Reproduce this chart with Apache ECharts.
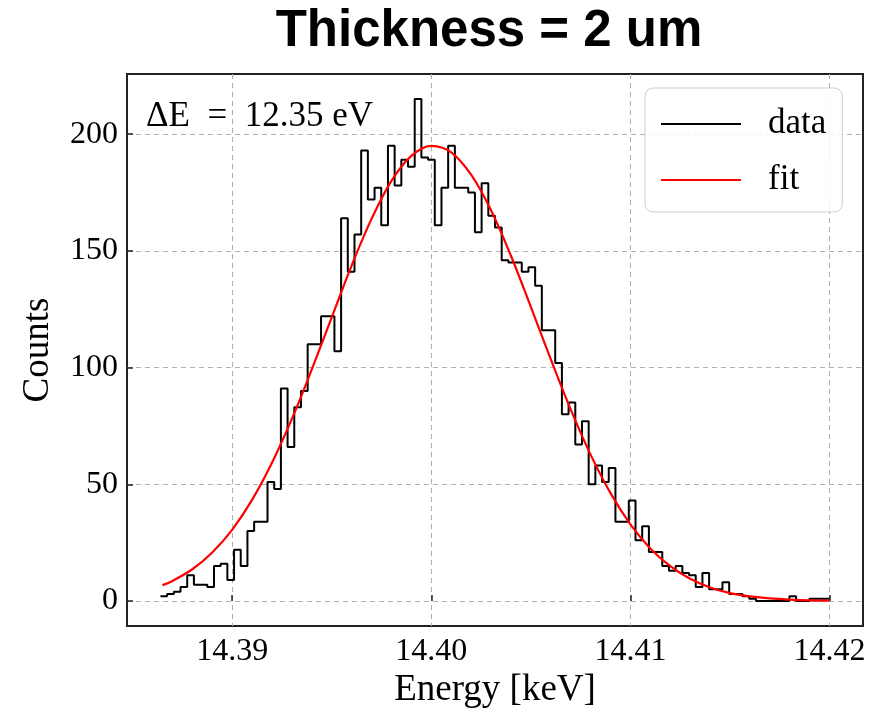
<!DOCTYPE html>
<html><head><meta charset="utf-8">
<script src="https://cdn.jsdelivr.net/npm/echarts@6/dist/echarts.min.js"></script>
<style>html,body{margin:0;padding:0;background:#fff;}#chart{width:885px;height:714px;}</style>
</head><body><div id="chart"></div>
<script>
const chartTitle = 'Thickness = 2 um';
const annotation = '\u0394E\u2002=\u200212.35 eV';
const xAxisName = 'Energy [keV]';
const yAxisName = 'Counts';
const seriesNames = ['data', 'fit'];

// histogram (step) : first bin edge, bin width, counts per bin
const binStart = 14.3864;
const binWidth = 0.000336;
const counts = [
  2, 3, 4, 6, 11, 7, 7, 6, 15, 16,
  9, 22, 15, 30, 34, 34, 51, 48, 91, 66,
  83, 90, 110, 110, 122, 122, 107, 164, 141, 157,
  193, 172, 177, 161, 195, 178, 189, 186, 215, 190,
  189, 161, 177, 195, 177, 177, 175, 158, 179, 165,
  160, 146, 145, 145, 141, 143, 135, 116, 116, 102,
  80, 85, 67, 77, 50, 58, 51, 57, 34, 34,
  43, 26, 32, 21, 21, 15, 13, 15, 12, 11,
  6, 12, 5, 5, 8, 3, 3, 2, 1, 0,
  0, 0, 0, 0, 2, 0, 0, 1, 1, 1
];

// fit curve
const fitEnergy = [14.3865, 14.387, 14.388, 14.389, 14.390, 14.391, 14.392, 14.393, 14.394, 14.395,
  14.396, 14.397, 14.398, 14.399, 14.400, 14.401, 14.402, 14.403, 14.404, 14.405,
  14.406, 14.407, 14.408, 14.409, 14.410, 14.411, 14.412, 14.413, 14.414, 14.415,
  14.416, 14.417, 14.418, 14.419, 14.420];
const fitCounts = [6.8, 8.6, 13.6, 20.8, 30.5, 43.3, 59.2, 78.0, 99.2, 121.5,
  143.7, 163.7, 180.0, 190.7, 195.0, 192.2, 182.6, 167.4, 147.9, 126.0,
  103.6, 82.1, 62.7, 46.2, 32.8, 22.5, 14.9, 9.5, 5.8, 3.4,
  2.0, 1.1, 0.6, 0.3, 0.2];

const xTicks = [14.39, 14.40, 14.41, 14.42];
const yTicks = [0, 50, 100, 150, 200];
const xRange = [14.38472, 14.42168];
const yRange = [-10.75, 225.75];

const histPoints = counts.map((c, i) => [binStart + i * binWidth, c]);
histPoints.push([binStart + counts.length * binWidth, counts[counts.length - 1]]);
const fitPoints = fitEnergy.map((e, i) => [e, fitCounts[i]]);

const serif = 'Liberation Serif, Times New Roman, serif';
const isTick = (arr, v) => arr.some(t => Math.abs(t - v) < 1e-7);
const gridLine = {show: true, showMinLine: false, showMaxLine: false,
  lineStyle: {color: '#b0b0b0', width: 1, type: [5, 4]}};
const tickStyle = {show: true, inside: true, length: 6, lineStyle: {color: '#222', width: 1.5}};

const chart = echarts.init(document.getElementById('chart'), null, {renderer: 'canvas'});
chart.setOption({
  backgroundColor: '#fff',
  animation: false,
  title: {
    text: chartTitle, left: 484, top: 1, textAlign: 'center',
    textStyle: {fontFamily: 'Liberation Sans, Arial, sans-serif', fontWeight: 'bold', fontSize: 51, color: '#000'}
  },
  grid: {left: 127, right: 22, top: 74, bottom: 85, show: true, borderColor: '#222', borderWidth: 2, backgroundColor: 'transparent'},
  legend: {
    data: seriesNames, orient: 'vertical', left: 645, top: 88,
    itemWidth: 80, itemHeight: 16, itemGap: 20,
    padding: [18, 16, 14, 15],
    itemStyle: {opacity: 0},
    backgroundColor: 'rgba(255,255,255,0.85)', borderColor: '#cccccc', borderWidth: 1, borderRadius: 8,
    textStyle: {fontFamily: serif, fontSize: 35, color: '#000', padding: [0, 0, 0, 22], lineHeight: 36}
  },
  xAxis: {
    type: 'value', min: xRange[0], max: xRange[1],
    name: xAxisName, nameLocation: 'middle', nameGap: 41,
    nameTextStyle: {fontFamily: serif, fontSize: 37, color: '#000'},
    axisLine: {show: false},
    axisTick: tickStyle,
    axisLabel: {
      margin: 9, fontFamily: serif, fontSize: 32, color: '#000',
      showMinLabel: false, showMaxLabel: false,
      formatter: v => isTick(xTicks, v) ? v.toFixed(2) : ''
    },
    splitLine: gridLine
  },
  yAxis: {
    type: 'value', min: yRange[0], max: yRange[1],
    name: yAxisName, nameLocation: 'middle', nameGap: 70,
    nameTextStyle: {fontFamily: serif, fontSize: 37, color: '#000'},
    axisLine: {show: false},
    axisTick: tickStyle,
    axisLabel: {
      margin: 9, fontFamily: serif, fontSize: 32, color: '#000',
      showMinLabel: false, showMaxLabel: false,
      formatter: v => isTick(yTicks, v) ? String(Math.round(v)) : ''
    },
    splitLine: gridLine
  },
  graphic: [{
    type: 'text', left: 146, top: 99, z: 10,
    style: {text: annotation, font: '35px ' + serif, fill: '#000'}
  }],
  series: [
    {
      name: seriesNames[0], type: 'line', data: histPoints, step: 'end',
      symbol: 'none', showSymbol: false,
      lineStyle: {color: '#000', width: 2}, itemStyle: {color: '#000'}, z: 2
    },
    {
      name: seriesNames[1], type: 'line', data: fitPoints, smooth: 0.35,
      symbol: 'none', showSymbol: false,
      lineStyle: {color: '#ff0000', width: 2.2}, itemStyle: {color: '#ff0000'}, z: 3
    }
  ]
});
</script></body></html>
